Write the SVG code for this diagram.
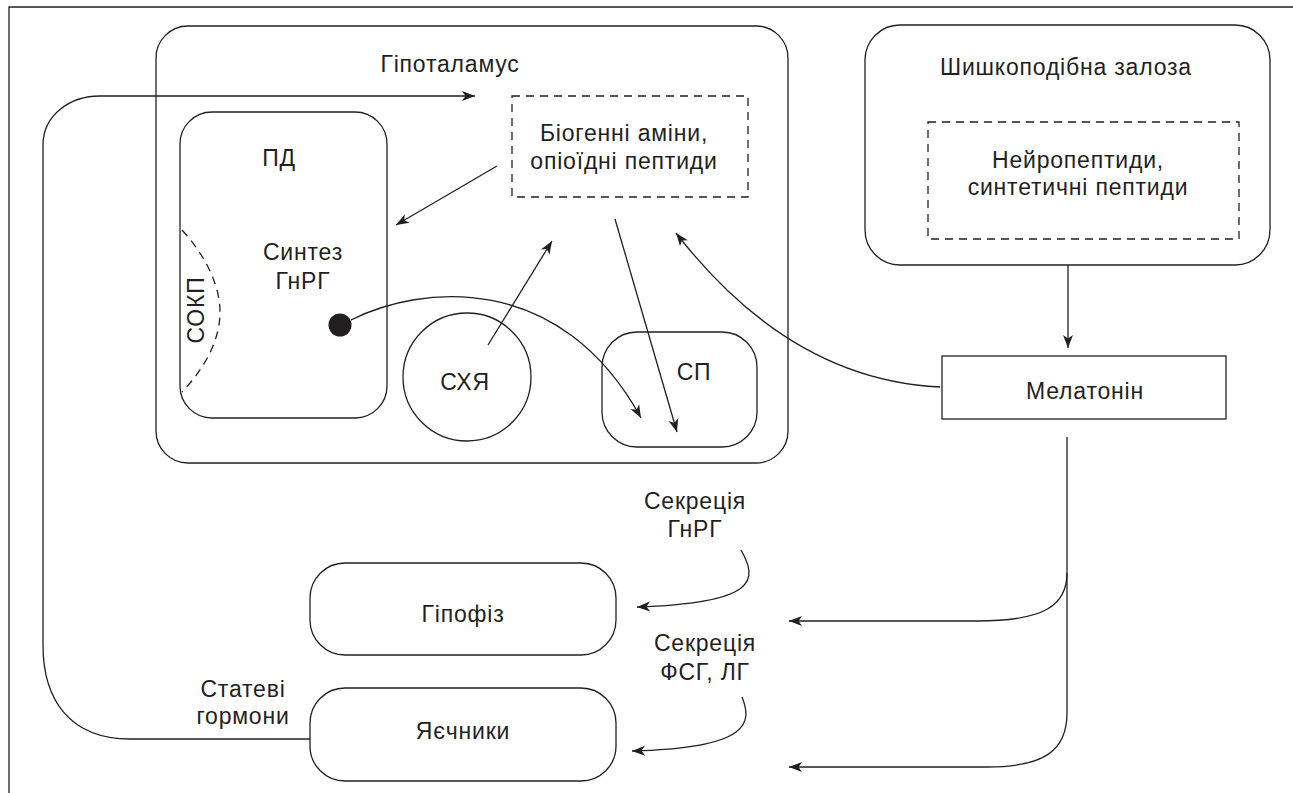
<svg xmlns="http://www.w3.org/2000/svg" width="1293" height="793" viewBox="0 0 1293 793">
<defs>
<style>
.b{fill:none;stroke:#231f20;stroke-width:1.3}
.d{fill:none;stroke:#231f20;stroke-width:1.3;stroke-dasharray:8,6}
.c{fill:none;stroke:#231f20;stroke-width:1.3;marker-end:url(#ah)}
.t{font-family:"Liberation Sans",Arial,sans-serif;font-size:23px;letter-spacing:0.8px;fill:#231f20;text-anchor:middle}
</style>
<marker id="ah" markerUnits="userSpaceOnUse" markerWidth="14" markerHeight="12" viewBox="0 0 14 12" refX="13" refY="6" orient="auto">
<path d="M0,1 L13,6 L0,11 L3.5,6 z" fill="#231f20"/>
</marker>
</defs>
<rect width="1293" height="793" fill="#fff"/>
<path class="b" d="M9,793 V7 H1293"/>
<g id="hypothalamus">
<rect class="b" x="156" y="26" width="632" height="437" rx="32"/>
<text class="t" x="450" y="72">Гіпоталамус</text>
</g>
<g id="pd">
<rect class="b" x="180" y="112" width="207" height="306" rx="32"/>
<text class="t" x="279" y="166">ПД</text>
<text class="t" x="303" y="260">Синтез</text>
<text class="t" x="303" y="289">ГнРГ</text>
</g>
<g id="sokp">
<path class="d" d="M182,230 C205,255 220,285 220,312 C220,340 205,368 182,392"/>
<text class="t" transform="translate(204,310) rotate(-90)">СОКП</text>
</g>
<g id="amines">
<rect class="d" x="512" y="96" width="236" height="101"/>
<text class="t" x="624" y="141">Біогенні аміни,</text>
<text class="t" x="624" y="169">опіоїдні пептиди</text>
</g>
<g id="shya">
<circle class="b" cx="467" cy="377" r="64"/>
<text class="t" x="465" y="390">СХЯ</text>
</g>
<g id="sp">
<rect class="b" x="602" y="332" width="155" height="115" rx="35"/>
<text class="t" x="694" y="380">СП</text>
</g>
<g id="pineal">
<rect class="b" x="865" y="25" width="405" height="240" rx="35"/>
<text class="t" x="1066" y="75">Шишкоподібна залоза</text>
<rect class="d" x="928" y="122" width="311" height="117"/>
<text class="t" x="1078" y="168">Нейропептиди,</text>
<text class="t" x="1078" y="195">синтетичні пептиди</text>
</g>
<g id="melatonin">
<rect class="b" x="942" y="356" width="284" height="63"/>
<text class="t" x="1085" y="399">Мелатонін</text>
</g>
<g id="pituitary">
<rect class="b" x="310" y="563" width="306" height="92" rx="35"/>
<text class="t" x="463" y="622">Гіпофіз</text>
</g>
<g id="ovaries">
<rect class="b" x="310" y="688" width="306" height="93" rx="35"/>
<text class="t" x="463" y="739">Яєчники</text>
</g>
<g id="labels">
<text class="t" x="695" y="509">Секреція</text>
<text class="t" x="695" y="537">ГнРГ</text>
<text class="t" x="705" y="651">Секреція</text>
<text class="t" x="705" y="680">ФСГ, ЛГ</text>
<text class="t" x="243" y="697">Статеві</text>
<text class="t" x="243" y="724">гормони</text>
</g>
<g id="connectors">
<path class="c" d="M310,739 H130 C70,739 43,700 43,645 V145 C43,115 70,96 100,96 H475"/>
<path class="c" d="M497,166 L396,225"/>
<path class="c" d="M488,345 L552,241"/>
<path class="c" d="M615,219 L677,432"/>
<circle cx="340" cy="325" r="11.5" fill="#231f20"/>
<path class="c" d="M351,320 C420,285 560,270 641,418"/>
<path class="c" d="M940,387 Q790,380 676,233"/>
<path class="c" d="M1068,265 V348"/>
<path class="c" d="M1067,437 V713 C1067,750 1045,767 987,767 H789"/>
<path class="c" d="M1067,573 C1067,605 1045,621 977,621 H789"/>
<path class="c" d="M741,550 C758,580 758,603 637,607"/>
<path class="c" d="M742,697 C752,722 752,748 632,751"/>
</g>
</svg>
